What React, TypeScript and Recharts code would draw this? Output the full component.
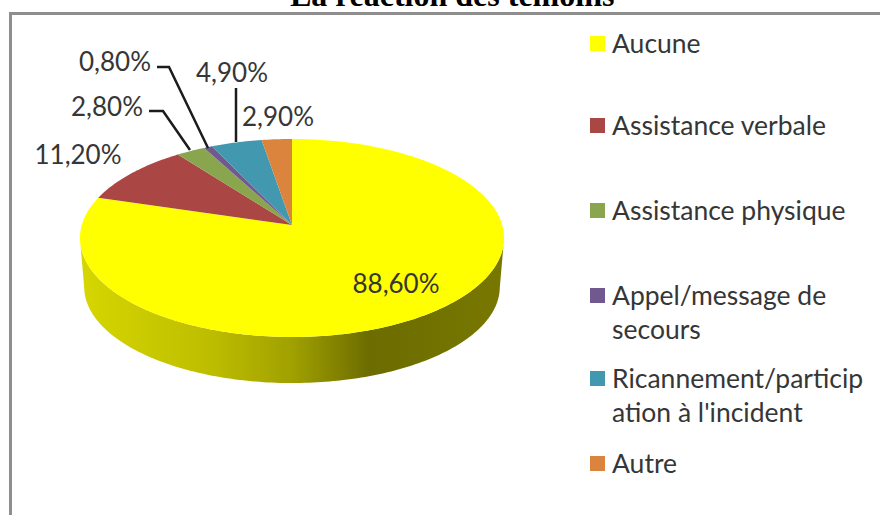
import React from "react";
import { PieChart, Pie, Cell, Legend } from "recharts";

const categories = [
  "Aucune",
  "Assistance verbale",
  "Assistance physique",
  "Appel/message de secours",
  "Ricannement/participation à l'incident",
  "Autre",
];
const percentages = [88.6, 11.2, 2.8, 0.8, 4.9, 2.9];
const colors = ["#FFFF00", "#AA4643", "#89A54E", "#71588F", "#4198AF", "#DB843D"];
const legendLines = [
  ["Aucune"],
  ["Assistance verbale"],
  ["Assistance physique"],
  ["Appel/message de", "secours"],
  ["Ricannement/particip", "ation à l'incident"],
  ["Autre"],
];
const title = "La réaction des témoins";

const rows = categories.map((name, i) => ({ name, value: percentages[i] }));

const FONT = "Lato, 'Open Sans', sans-serif";
const TEXT = "#363636";
const K = 0.1313;
const SQUASH = 97.3 / 210.2;
const DEPTH = 49;

const labelPlacement = [
  { x: 396, y: 283 },
  { x: 78, y: 154 },
  { x: 107, y: 106 },
  { x: 115, y: 61 },
  { x: 232, y: 72 },
  { x: 278, y: 116 },
];
const leaders: (string | null)[] = [
  null,
  null,
  "149,111 163,111 190,150",
  "157,67 169,67 208,148",
  "236,88 236,142",
  null,
];
const legendRowTop = [43, 125, 210, 295, 378, 463];

function project(cx: number, cy: number, r: number, deg: number) {
  const t = ((90 - deg) * Math.PI) / 180;
  const u = Math.sin(t);
  const v = -Math.cos(t);
  const d = 1 - K * v;
  return { x: (r * u) / d, y: (r * SQUASH * v) / d, v, cx, cy };
}

function SliceShape(props: any) {
  const { cx, cy, outerRadius: r, startAngle, endAngle, fill } = props;
  const steps = Math.max(4, Math.ceil(Math.abs(endAngle - startAngle)));
  const arc = [];
  for (let i = 0; i <= steps; i++) {
    arc.push(project(cx, cy, r, startAngle + ((endAngle - startAngle) * i) / steps));
  }
  const face =
    `M${cx},${cy} ` + arc.map((p) => `L${(cx + p.x).toFixed(2)},${(cy + p.y).toFixed(2)}`).join(" ") + " Z";
  const front = arc.filter((p) => p.v >= K);
  const midY = cy + 13;
  const upper = front.map((p) => `${(cx + p.x).toFixed(2)},${(cy + p.y).toFixed(2)}`);
  const lower = front
    .slice()
    .reverse()
    .map((p) => `${(cx + p.x * 0.98).toFixed(2)},${(midY + (cy + p.y - midY) * 0.97 + DEPTH).toFixed(2)}`);
  return (
    <g>
      {front.length > 1 && <polygon points={[...upper, ...lower].join(" ")} fill="url(#wallShade)" />}
      <path d={face} fill={fill} stroke="none" />
    </g>
  );
}

function SliceLabel(props: any) {
  const { index, value } = props;
  const pos = labelPlacement[index];
  const line = leaders[index];
  return (
    <g>
      {line && <polyline points={line} fill="none" stroke="#1c1c1c" strokeWidth={2.5} />}
      <text
        x={pos.x}
        y={pos.y}
        textAnchor="middle"
        dominantBaseline="central"
        fontFamily={FONT}
        fontSize={26}
        fill={TEXT}
      >
        {`${value.toFixed(2).replace(".", ",")}%`}
      </text>
    </g>
  );
}

function LegendBody() {
  return (
    <div style={{ position: "relative", width: 300, height: 515 }}>
      {legendLines.map((lines, i) => (
        <div key={categories[i]}>
          <div
            style={{
              position: "absolute",
              left: 0,
              top: legendRowTop[i] - 7.5,
              width: 15,
              height: 15,
              background: colors[i],
            }}
          />
          {lines.map((text, j) => (
            <div
              key={text}
              style={{
                position: "absolute",
                left: 22,
                top: legendRowTop[i] - 17 + j * 34,
                height: 34,
                lineHeight: "34px",
                fontFamily: FONT,
                fontSize: 26.5,
                color: TEXT,
                whiteSpace: "nowrap",
              }}
            >
              {text}
            </div>
          ))}
        </div>
      ))}
    </div>
  );
}

export default function App() {
  return (
    <div
      style={{ position: "absolute", left: 0, top: 0, width: 880, height: 515, overflow: "hidden", background: "#fff" }}
    >
      <div
        style={{
          position: "absolute",
          left: 9,
          top: 12,
          width: 900,
          height: 600,
          borderTop: "3px solid #8e8e8e",
          borderLeft: "3px solid #8e8e8e",
          boxSizing: "border-box",
        }}
      />
      <div
        style={{
          position: "absolute",
          left: 290,
          top: -21,
          height: 32,
          lineHeight: "32px",
          whiteSpace: "nowrap",
          fontFamily: "'Liberation Serif', serif",
          fontWeight: "bold",
          fontSize: 32,
          color: "#000",
        }}
      >
        {title}
      </div>
      <div style={{ position: "absolute", left: 0, top: 0 }}>
        <PieChart width={880} height={515} margin={{ top: 0, right: 0, bottom: 0, left: 0 }}>
          <defs>
            <linearGradient id="wallShade" gradientUnits="userSpaceOnUse" x1={81} y1={0} x2={505} y2={0}>
              <stop offset="0" stopColor="#D6D600" />
              <stop offset="0.3" stopColor="#BEBE00" />
              <stop offset="0.5" stopColor="#A0A000" />
              <stop offset="0.68" stopColor="#6C6C00" />
              <stop offset="1" stopColor="#787800" />
            </linearGradient>
          </defs>
          <Pie
            data={rows}
            dataKey="value"
            nameKey="name"
            cx={292}
            cy={225}
            outerRadius={210.2}
            startAngle={90}
            endAngle={-270}
            stroke="none"
            shape={SliceShape}
            label={SliceLabel}
            labelLine={false}
            isAnimationActive={false}
          >
            {rows.map((r, i) => (
              <Cell key={r.name} fill={colors[i]} />
            ))}
          </Pie>
          <Legend
            layout="vertical"
            content={() => <LegendBody />}
            wrapperStyle={{ position: "absolute", left: 590, top: 0, width: 290, height: 515, bottom: "auto", right: "auto" }}
          />
        </PieChart>
      </div>
    </div>
  );
}
